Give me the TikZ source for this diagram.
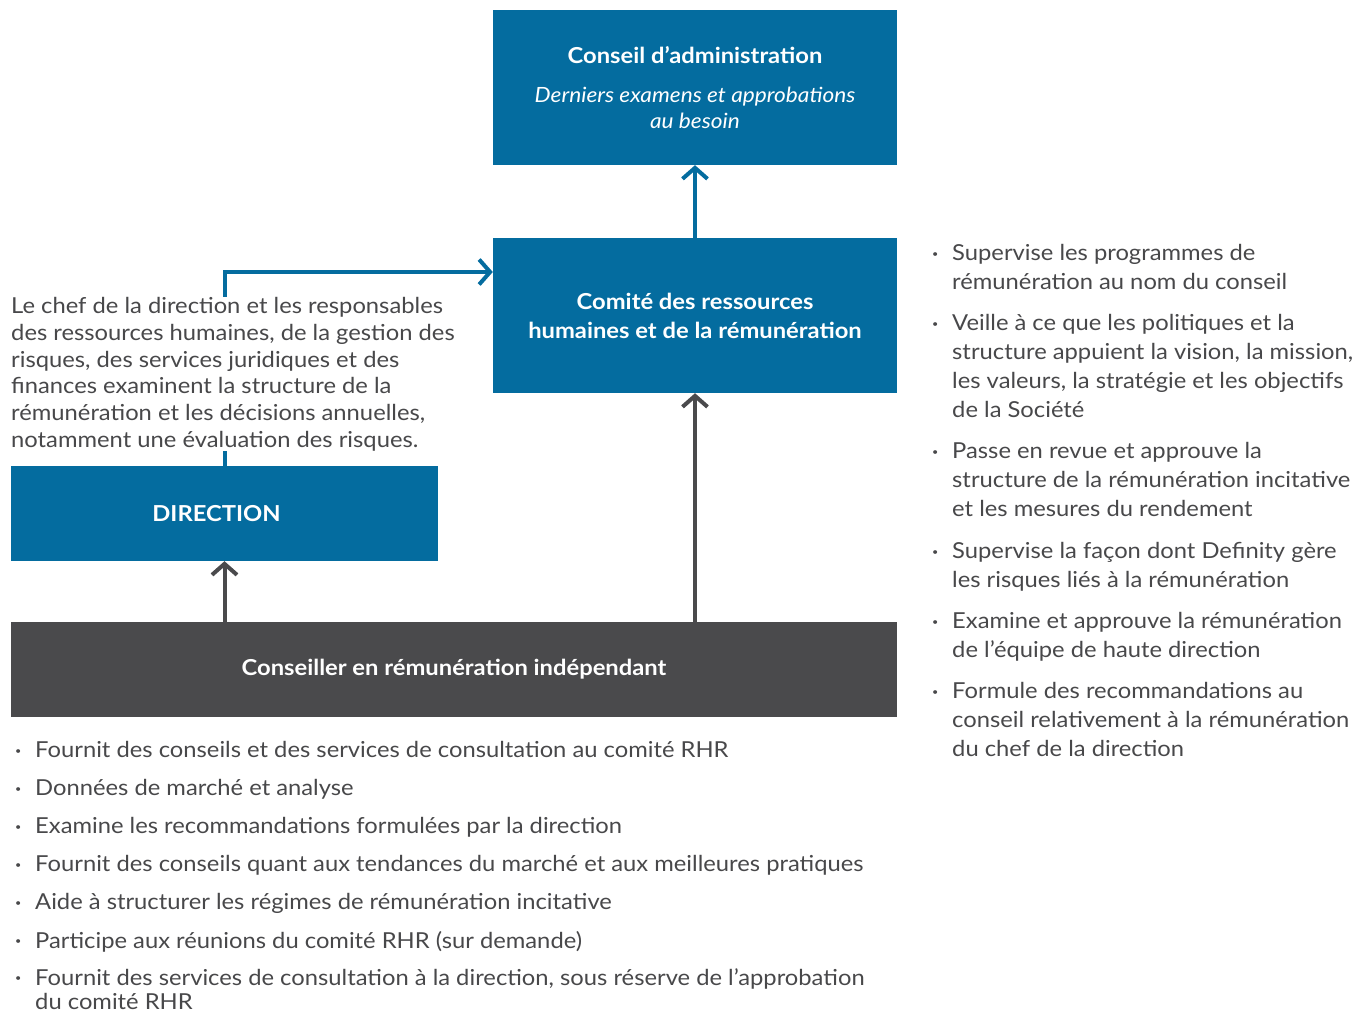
\documentclass[tikz,border=0pt]{standalone}
\usepackage{fontspec}
\setmainfont{Lato}[FakeStretch=1.08]
\usetikzlibrary{arrows.meta}
\definecolor{cblue}{HTML}{046C9F}
\definecolor{cgray}{HTML}{4A4A4C}
\definecolor{ctext}{HTML}{48484A}
\newcommand\mybul{\makebox[20pt][l]{\raisebox{0.3ex}{\fontsize{10}{10}\selectfont\textbullet}}}
\newcommand\myind{\hspace*{20pt}}
\newcommand\myit[1]{{\itshape\fontsize{21}{26}\selectfont #1}}
\begin{document}
\begin{tikzpicture}[x=1pt,y=-1pt,
  bbox/.style={fill=cblue, text=white, inner sep=0pt, align=center, font=\fontsize{22}{29}\selectfont},
  gbox/.style={fill=cgray, text=white, inner sep=0pt, align=center, font=\fontsize{22}{29}\selectfont},
  tip/.style={-{Straight Barb[length=11pt,width=25pt]}},
  bluearrow/.style={draw=cblue, line width=4pt, tip},
  grayarrow/.style={draw=cgray, line width=4pt, tip},
  ritem/.style={anchor=north west, inner sep=0pt, align=left, text=ctext, font=\fontsize{22}{29}\selectfont},
  bitem/.style={anchor=north west, inner sep=0pt, align=left, text=ctext, font=\fontsize{22}{28}\selectfont},
  para/.style={anchor=north west, inner sep=0pt, align=left, text=ctext, fill=white, font=\fontsize{22}{26.8}\selectfont}
]
\useasboundingbox (0,0) rectangle (1360,1014);

\node[bbox, minimum width=404pt, minimum height=155pt] (ca) at (695,87.5)
  {\textbf{Conseil d’administration}\\[10pt]\myit{Derniers examens et approbations}\\[-3pt]\myit{au besoin}};
\node[bbox, minimum width=404pt, minimum height=155pt] (crh) at (695,315.5)
  {\textbf{Comité des ressources}\\\textbf{humaines et de la rémunération}};
\node[bbox, minimum width=427pt, minimum height=95pt] (dir) at (224.5,513.5)
  {\textbf{DIRECTION}\hspace*{16pt}};
\node[gbox, minimum width=886pt, minimum height=95pt] (cri) at (454,669.5)
  {\textbf{Conseiller en rémunération indépendant}};

\coordinate (bend) at (224,272);
\draw[bluearrow] (dir.north) |- (crh.west |- bend);
\draw[bluearrow] (crh.north) -- (ca.south);
\draw[grayarrow] (cri.north -| crh.south) -- (crh.south);
\draw[grayarrow] (cri.north -| dir.south) -- (dir.south);

\node[para] (txt) at (11,297)
  {Le chef de la direction et les responsables\\
   des ressources humaines, de la gestion des\\
   risques, des services juridiques et des\\
   finances examinent la structure de la\\
   rémunération et les décisions annuelles,\\
   notamment une évaluation des risques.};

\node[ritem] (r1) at (932,244) {\mybul Supervise les programmes de\\\myind rémunération au nom du conseil};
\node[ritem] (r2) at (932,314) {\mybul Veille à ce que les politiques et la\\\myind structure appuient la vision, la mission,\\\myind les valeurs, la stratégie et les objectifs\\\myind de la Société};
\node[ritem] (r3) at (932,442) {\mybul Passe en revue et approuve la\\\myind structure de la rémunération incitative\\\myind et les mesures du rendement};
\node[ritem] (r4) at (932,542) {\mybul Supervise la façon dont Definity gère\\\myind les risques liés à la rémunération};
\node[ritem] (r5) at (932,612) {\mybul Examine et approuve la rémunération\\\myind de l’équipe de haute direction};
\node[ritem] (r6) at (932,682) {\mybul Formule des recommandations au\\\myind conseil relativement à la rémunération\\\myind du chef de la direction};

\node[bitem] (b1) at (15,741) {\mybul Fournit des conseils et des services de consultation au comité RHR};
\node[bitem] (b2) at (15,779) {\mybul Données de marché et analyse};
\node[bitem] (b3) at (15,817) {\mybul Examine les recommandations formulées par la direction};
\node[bitem] (b4) at (15,855) {\mybul Fournit des conseils quant aux tendances du marché et aux meilleures pratiques};
\node[bitem] (b5) at (15,893) {\mybul Aide à structurer les régimes de rémunération incitative};
\node[bitem] (b6) at (15,931) {\mybul Participe aux réunions du comité RHR (sur demande)};
\node[bitem] (b7) at (15,968) {\mybul Fournit des services de consultation à la direction, sous réserve de l’approbation\\[-4pt]\myind du comité RHR};
\end{tikzpicture}
\end{document}
